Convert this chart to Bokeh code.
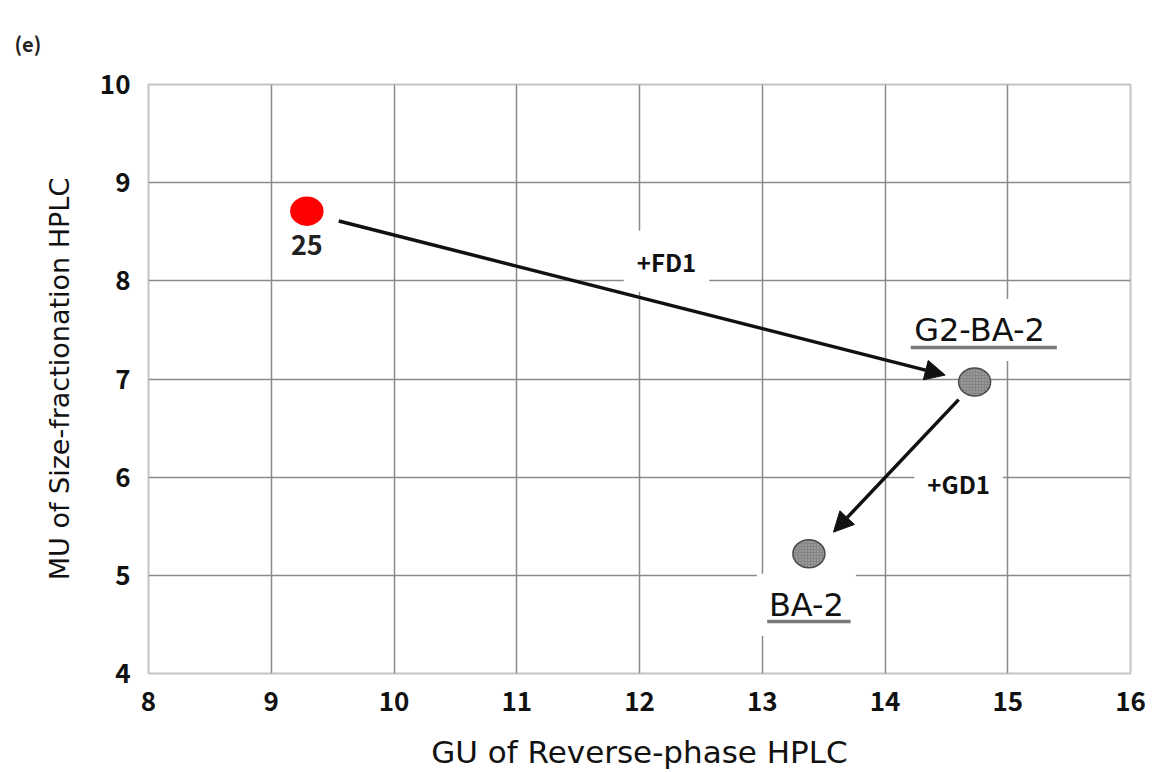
from bokeh.plotting import figure
from bokeh.models import Label, Arrow, NormalHead, ColumnDataSource, Range1d, FixedTicker
from bokeh.embed import file_html
from bokeh.resources import INLINE

# ---- data ----
x_ticks = [8, 9, 10, 11, 12, 13, 14, 15, 16]
y_ticks = [4, 5, 6, 7, 8, 9, 10]

point_names = ["25", "G2-BA-2", "BA-2"]
point_x = [9.29, 14.73, 13.38]
point_y = [8.71, 6.97, 5.22]
point_fill = ["#ff0000", "#858585", "#858585"]
point_line = ["#ff0000", "#4a4a4a", "#4a4a4a"]
point_hatch = ["", "dot", "dot"]

name_label_x = [9.29, 14.77, 13.36]
name_label_y = [8.37, 7.50, 4.70]

underline_x0 = [14.21, 13.04]
underline_x1 = [15.40, 13.72]
underline_y = [7.32, 4.53]

arrow_x0 = [9.55, 14.60]
arrow_y0 = [8.61, 6.79]
arrow_x1 = [14.49, 13.58]
arrow_y1 = [7.04, 5.44]
arrow_labels = ["+FD1", "+GD1"]
arrow_label_x = [12.22, 14.60]
arrow_label_y = [8.20, 5.94]

FONT = "Noto Sans CJK JP"
LFONT = "DejaVu Sans"

p = figure(width=1152, height=772, output_backend="svg", toolbar_location=None,
           x_range=Range1d(8, 16), y_range=Range1d(4, 10),
           min_border_left=148, min_border_right=22, min_border_top=84, min_border_bottom=97)

p.title.text = "(e)"
p.title.align = "left"
p.title.offset = -134
p.title.standoff = 50
p.title.vertical_align = "top"
p.title.text_font = FONT
p.title.text_font_style = "bold"
p.title.text_font_size = "20px"
p.title.text_color = "#222222"

p.background_fill_color = "white"
p.border_fill_color = "white"
p.outline_line_color = "#c4c4c4"
p.outline_line_width = 2

for ax in (p.xaxis[0], p.yaxis[0]):
    ax.axis_line_color = None
    ax.major_tick_line_color = None
    ax.minor_tick_line_color = None
    ax.major_label_text_font = FONT
    ax.major_label_text_font_style = "bold"
    ax.major_label_text_font_size = "26px"
    ax.major_label_text_color = "#111111"
    ax.axis_label_text_font = LFONT
    ax.axis_label_text_font_style = "normal"
    ax.axis_label_text_color = "#111111"

p.xaxis.axis_label_text_font_size = "31px"
p.yaxis.axis_label_text_font_size = "27px"
p.xaxis.ticker = FixedTicker(ticks=x_ticks)
p.yaxis.ticker = FixedTicker(ticks=y_ticks)
p.xaxis.axis_label = "GU of Reverse-phase HPLC"
p.yaxis.axis_label = "MU of Size-fractionation HPLC"
p.xaxis.major_label_standoff = 12
p.yaxis.major_label_standoff = 12
p.xaxis.axis_label_standoff = 20
p.yaxis.axis_label_standoff = 22

p.xgrid.grid_line_color = "#8a8a8a"
p.ygrid.grid_line_color = "#8a8a8a"
p.xgrid.grid_line_width = 1.5
p.ygrid.grid_line_width = 1.5

# labels with white boxes (drawn over grid)
for t, x, y in zip(arrow_labels, arrow_label_x, arrow_label_y):
    p.add_layout(Label(x=x, y=y, text=t, text_align="center", text_baseline="middle",
                       text_font=FONT, text_font_style="bold", text_font_size="24px",
                       text_color="#111111", background_fill_color="white",
                       padding=13))

for i, (t, x, y) in enumerate(zip(point_names, name_label_x, name_label_y)):
    if i == 0:
        p.add_layout(Label(x=x, y=y, text=t, text_align="center", text_baseline="middle",
                           text_font=FONT, text_font_style="bold", text_font_size="27px",
                           text_color="#222222"))
    else:
        p.add_layout(Label(x=x, y=y, text=t, text_align="center", text_baseline="middle",
                           text_font=LFONT, text_font_style="normal", text_font_size="32px",
                           text_color="#111111", background_fill_color="white",
                           padding=12))

# underlines drawn as annotations so they sit above the label boxes
for x0, x1, y in zip(underline_x0, underline_x1, underline_y):
    p.add_layout(Arrow(x_start=x0, y_start=y, x_end=x1, y_end=y, start=None, end=None,
                       line_color="#7a7a7a", line_width=3.5))

src = ColumnDataSource(dict(x=point_x, y=point_y, fill=point_fill, line=point_line,
                            hatch=point_hatch))
p.ellipse(x="x", y="y", width=32, height=28, width_units="screen", height_units="screen",
          fill_color="fill", line_color="line", line_width=1.5,
          hatch_pattern="hatch", hatch_color="#b5b5b5", hatch_scale=3, hatch_weight=1,
          source=src)

for x0, y0, x1, y1 in zip(arrow_x0, arrow_y0, arrow_x1, arrow_y1):
    p.add_layout(Arrow(x_start=x0, y_start=y0, x_end=x1, y_end=y1,
                       line_color="#111111", line_width=3.5,
                       end=NormalHead(size=20, fill_color="#111111", line_color="#111111")))

open("out.html", "w").write(file_html(p, INLINE))
